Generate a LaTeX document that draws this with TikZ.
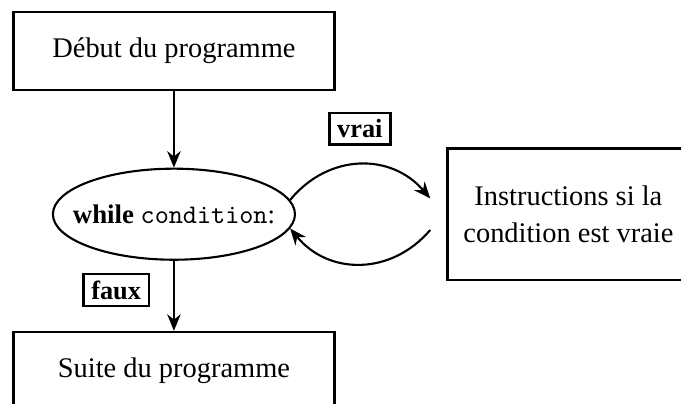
\documentclass[tikz,border=0pt]{standalone}
\usepackage{fontspec}
\setmainfont{Liberation Serif}
\usepackage{tikz}
\usetikzlibrary{arrows.meta,positioning,calc,shapes.geometric}

\begin{document}
\begin{tikzpicture}[
    font=\fontsize{10.8}{14}\selectfont,
    bloc/.style={rectangle,draw,line width=1pt,minimum width=122pt,minimum height=29.6pt,align=center},
    test/.style={ellipse,draw,thick,minimum width=92pt,minimum height=34.6pt,font=\fontsize{10.2}{12}\selectfont},
    etiq/.style={rectangle,draw,line width=1pt,font=\bfseries,inner xsep=3pt,inner ysep=2.5pt},
    fleche/.style={-{Stealth[length=2.2mm,width=1.8mm]},thick}
]
% cadre de la page
\useasboundingbox (-66.1pt,19.4pt) rectangle (192.7pt,-133.8pt);
\node[bloc] (debut) at (0,0) {Début du programme};
\node[test,below=29pt of debut] (while) {\makebox[0pt]{\textbf{while} \texttt{condition}:}};
\node[bloc,below=26.6pt of while] (suite) {Suite du programme};
\node[bloc,right=57pt of while,minimum width=92pt,minimum height=50pt] (instr) {Instructions si la\\condition est vraie};
\draw[fleche] (debut) -- (while);
\draw[fleche] (while) -- node[etiq,left=9pt,pos=0.42]{faux} (suite);
\draw[fleche] (while.7) to[bend left=50,looseness=1.1] node[etiq,above=7pt]{vrai} ([xshift=-6pt,yshift=6pt]instr.west);
\draw[fleche] ([xshift=-6pt,yshift=-6pt]instr.west) to[bend left=50,looseness=1.1] (while.-7);
\end{tikzpicture}
\end{document}
